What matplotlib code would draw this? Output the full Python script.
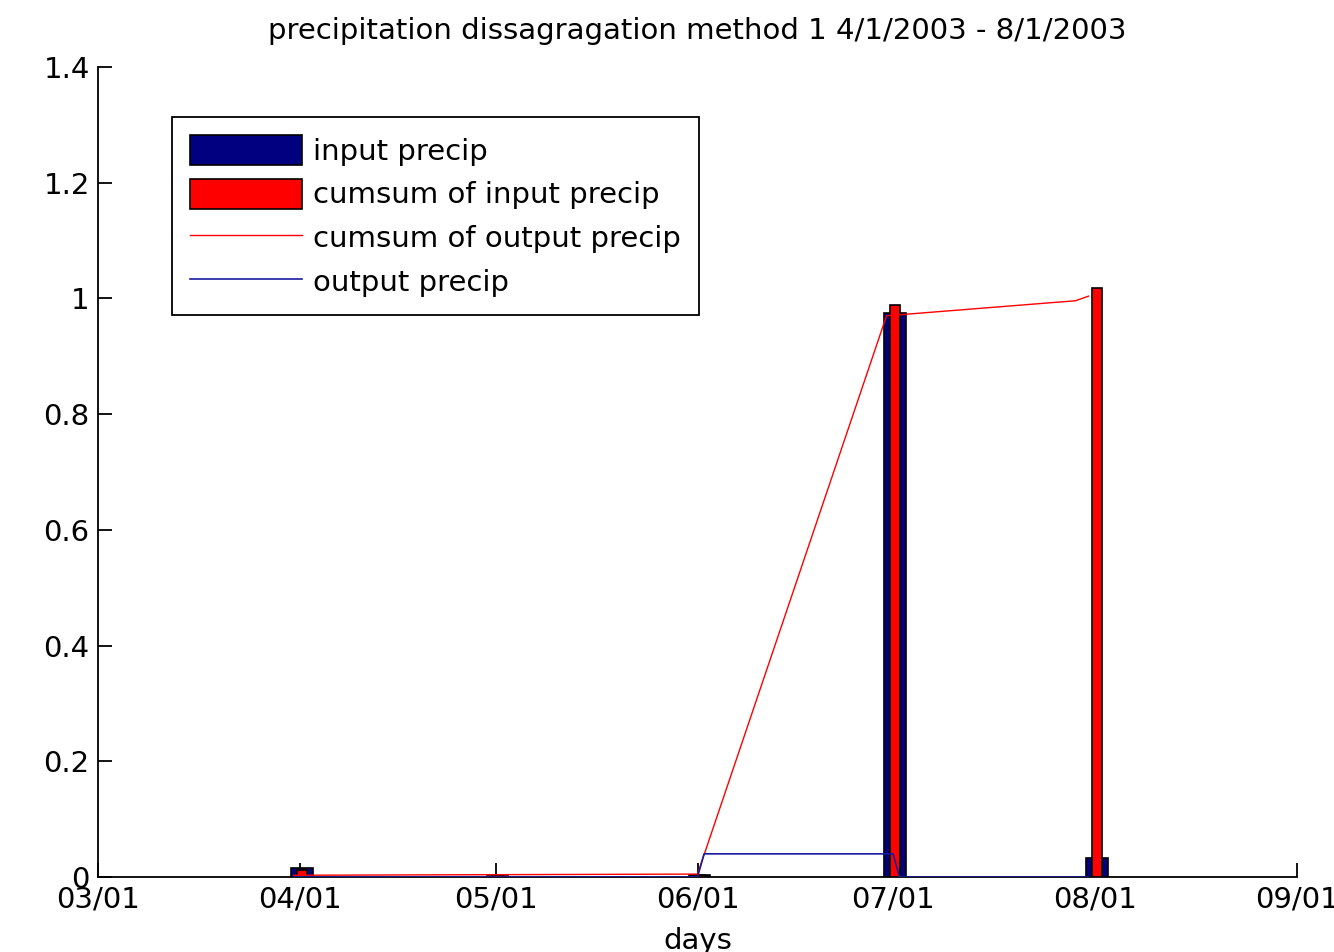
import matplotlib
matplotlib.use("Agg")
import matplotlib.pyplot as plt
import matplotlib.dates as mdates
import numpy as np
import pandas as pd

# --- data ---
bar_dates = pd.to_datetime(["2003-04-01", "2003-05-01", "2003-06-01", "2003-07-01", "2003-08-01"])
input_precip = [0.015, 0.002, 0.003, 0.975, 0.033]
cumsum_input = [0.012, 0.003, 0.004, 0.988, 1.018]

cum_out_dates = pd.to_datetime(["2003-03-31", "2003-06-01", "2003-06-30", "2003-07-29", "2003-07-31"])
cum_out_vals = [0.003, 0.005, 0.970, 0.996, 1.004]

out_dates = pd.to_datetime(["2003-03-31", "2003-06-01", "2003-06-02", "2003-07-01",
                            "2003-07-02", "2003-07-31"])
out_vals = [0.0, 0.0, 0.040, 0.040, 0.0, 0.0]

title = "precipitation dissagragation method 1 4/1/2003 - 8/1/2003"

plt.rcParams['font.family'] = ['DejaVu Sans']
fs = 21

fig = plt.figure(figsize=(13.34, 9.52), dpi=100)
ax = fig.add_axes([0.0735, 0.0788, 0.8988, 0.8508])

xb = mdates.date2num(bar_dates)
b1 = ax.bar(xb + 0.3, input_precip, width=3.3, color="#000080", edgecolor="black",
            linewidth=1.2, label="input precip", zorder=2)
b2 = ax.bar(xb + 0.3, cumsum_input, width=1.6, color="#ff0000", edgecolor="black",
            linewidth=1.2, label="cumsum of input precip", zorder=3)
l1, = ax.plot(mdates.date2num(cum_out_dates), cum_out_vals, color="#ff0000", lw=1.0,
              label="cumsum of output precip", zorder=4)
l2, = ax.plot(mdates.date2num(out_dates), out_vals, color="#1a1aa0", lw=1.2,
              label="output precip", zorder=4)

ax.set_xlim(mdates.date2num(pd.Timestamp("2003-03-01")), mdates.date2num(pd.Timestamp("2003-09-01")))
ax.set_ylim(0, 1.4)
ax.xaxis.set_major_locator(mdates.MonthLocator())
ax.xaxis.set_major_formatter(mdates.DateFormatter("%m/%d"))
ax.set_yticks(np.arange(0, 1.41, 0.2))
ax.set_yticklabels(["0", "0.2", "0.4", "0.6", "0.8", "1", "1.2", "1.4"])

for s in ["top", "right"]:
    ax.spines[s].set_visible(False)
for s in ["left", "bottom"]:
    ax.spines[s].set_linewidth(1.3)
ax.tick_params(direction="in", length=10, width=1.3, labelsize=fs)
ax.tick_params(axis="x", pad=6)
ax.tick_params(axis="y", pad=6)

ax.set_title(title, fontsize=fs, pad=20)
ax.set_xlabel("days", fontsize=fs, labelpad=10)

leg = ax.legend([b1, b2, l1, l2],
                ["input precip", "cumsum of input precip", "cumsum of output precip", "output precip"],
                loc="upper left", bbox_to_anchor=(0.0617, 0.938), fontsize=fs,
                frameon=True, fancybox=False, edgecolor="black", framealpha=1,
                handlelength=3.85, handleheight=1.2, handletextpad=0.4,
                labelspacing=0.45, borderpad=0.6, borderaxespad=0)
leg.get_frame().set_linewidth(1.3)

fig.savefig("out.png", dpi=100)
